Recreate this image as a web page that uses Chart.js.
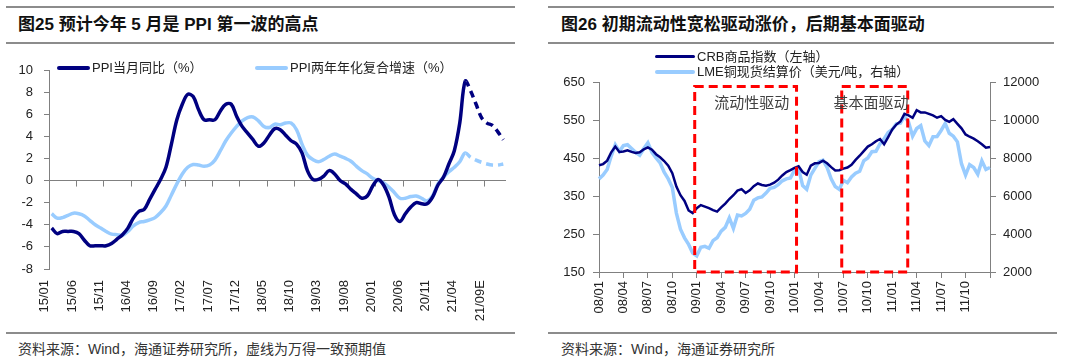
<!DOCTYPE html>
<html>
<head>
<meta charset="utf-8">
<script src="https://cdn.jsdelivr.net/npm/chart.js@4.4.0/dist/chart.umd.min.js"></script>
<style>
  body { margin: 0; background: #fff; width: 1080px; height: 364px; overflow: hidden; position: relative;
         font-family: "Liberation Sans", "Noto Sans CJK SC", sans-serif; }
  .rule { position: absolute; height: 2px; background: #8c8c8c; }
  .title { position: absolute; top: 15px; font-size: 17px; font-weight: bold; color: #111; line-height: 20px; white-space: nowrap; }
  .src { position: absolute; top: 340px; font-size: 14px; color: #333; line-height: 18px; white-space: nowrap; }
  .leg { position: absolute; font-size: 13px; color: #222; line-height: 16px; white-space: nowrap; }
  .sw { position: absolute; border-radius: 2px; }
  .panel { position: absolute; top: 50px; width: 540px; height: 280px; }
</style>
</head>
<body>
<!-- left panel -->
<div class="rule" style="left:6px;top:6px;width:509px"></div>
<div class="title" style="left:18px">图25 预计今年 5 月是 PPI 第一波的高点</div>
<div class="rule" style="left:6px;top:42px;width:509px"></div>
<div class="panel" style="left:0"><canvas id="ppiChart" width="540" height="280"></canvas></div>
<div class="sw" style="left:57px;top:66px;width:33px;height:4px;background:#000080"></div>
<div class="leg" style="left:92px;top:60px">PPI当月同比（%）</div>
<div class="sw" style="left:255px;top:66px;width:33px;height:4px;background:#99ccff"></div>
<div class="leg" style="left:290px;top:60px">PPI两年年化复合增速（%）</div>
<div class="rule" style="left:6px;top:332px;width:509px"></div>
<div class="src" style="left:18px">资料来源：Wind，海通证券研究所，虚线为万得一致预期值</div>

<!-- right panel -->
<div class="rule" style="left:548px;top:6px;width:506px"></div>
<div class="title" style="left:561px">图26 初期流动性宽松驱动涨价，后期基本面驱动</div>
<div class="rule" style="left:548px;top:42px;width:506px"></div>
<div class="panel" style="left:540px"><canvas id="crbChart" width="540" height="280"></canvas></div>
<div class="sw" style="left:655px;top:55px;width:40px;height:3px;background:#000080"></div>
<div class="leg" style="left:697px;top:49px">CRB商品指数（左轴）</div>
<div class="sw" style="left:655px;top:70px;width:40px;height:4px;background:#99ccff"></div>
<div class="leg" style="left:697px;top:64px">LME铜现货结算价（美元/吨，右轴）</div>
<div class="rule" style="left:548px;top:332px;width:509px"></div>
<div class="src" style="left:561px">资料来源：Wind，海通证券研究所</div>

<script>
Chart.defaults.font.family = '"Liberation Sans", "Noto Sans CJK SC", sans-serif';
Chart.defaults.font.size = 13;
Chart.defaults.color = '#222';

// ---- left chart data: monthly 2015/01 - 2021/12 ----
const ppiMonths = [];
for (let y = 15; y <= 21; y++) {
  for (let m = 1; m <= 12; m++) ppiMonths.push(y + '/' + String(m).padStart(2, '0'));
}
const ppiTickLabels = ['15/01', '15/06', '15/11', '16/04', '16/09', '17/02', '17/07', '17/12', '18/05',
  '18/10', '19/03', '19/08', '20/01', '20/06', '20/11', '21/04', '21/09E'];
const ppiYoY = [
  -4.3, -4.8, -4.6, -4.6, -4.6, -4.8, -5.4, -5.9, -5.9, -5.9, -5.9, -5.7,
  -5.3, -4.9, -4.3, -3.4, -2.8, -2.6, -1.7, -0.8, 0.1, 1.2, 3.3, 5.5,
  6.9, 7.8, 7.6, 6.4, 5.5, 5.5, 5.5, 6.3, 6.9, 6.9, 5.8, 4.9,
  4.3, 3.7, 3.1, 3.4, 4.1, 4.7, 4.6, 4.1, 3.6, 3.3, 2.5, 0.9,
  0.1, 0.1, 0.4, 0.9, 0.6, 0.0, -0.3, -0.8, -1.2, -1.6, -1.4, -0.5,
  0.1, -0.4, -1.5, -3.1, -3.7, -3.0, -2.4, -2.0, -2.1, -2.1, -1.5, -0.4,
  0.3, 1.5, 2.7, 5.2, 9.0, 8.1, 6.9, 5.7, 5.2, 5.0, 4.4, 3.7
];
const ppiTwoYear = [
  -3.0, -3.4, -3.35, -3.15, -2.95, -3.0, -3.2, -3.6, -4.0, -4.3, -4.6, -4.85,
  -4.9, -4.95, -4.6, -4.1, -3.8, -3.7, -3.55, -3.35, -2.9, -2.3, -1.3, -0.3,
  0.6, 1.2, 1.45, 1.4, 1.3, 1.4, 1.85, 2.7, 3.6, 4.3, 4.9, 5.4,
  5.7, 5.75, 5.4, 4.9, 4.8, 5.1, 5.05, 5.2, 5.2, 4.6, 3.3, 2.3,
  1.9, 1.7, 1.9, 2.2, 2.4, 2.2, 2.0, 1.75, 1.3, 0.9, 0.6, 0.2,
  0.0, -0.2, -0.6, -1.1, -1.6, -1.6, -1.45, -1.4, -1.6, -1.85, -1.4, -0.3,
  0.3, 0.8, 1.2, 1.7, 2.5, 2.1, 1.85, 1.65, 1.5, 1.4, 1.4, 1.5
];
const lastActual = 76; // 21/05, dashed afterwards (Wind consensus)

// ---- right chart data: semi-monthly 2008/01 - 2012/01 ----
const crbDates = [];
for (let y = 2008; y <= 2011; y++) {
  for (let m = 1; m <= 12; m++) {
    const mm = String(m).padStart(2, '0');
    crbDates.push(y + '-' + mm + '-01', y + '-' + mm + '-16');
  }
}
crbDates.push('2012-01-01');
const crbTickLabels = ['08/01', '08/04', '08/07', '08/10', '09/01', '09/04', '09/07', '09/10',
  '10/01', '10/04', '10/07', '10/10', '11/01', '11/04', '11/07', '11/10'];
const crbIndex = [
  431, 434, 443, 465, 480, 466, 467, 470, 466, 463, 465, 473, 478, 472, 460, 452,
  442, 430, 410, 375, 352, 337, 312, 305, 318, 326, 322, 318, 313, 309, 320, 330,
  342, 352, 364, 368, 358, 365, 376, 383, 379, 377, 380, 385, 393, 404, 413, 418,
  424, 428, 413, 406, 430, 436, 437, 443, 436, 426, 417, 418, 422, 425, 432, 445,
  456, 468, 480, 486, 494, 500, 486, 505, 525, 538, 546, 566, 562, 556, 576, 570,
  570, 566, 562, 556, 560, 550, 545, 552, 540, 528, 512, 506, 501, 494, 486, 477,
  479
];
const lmeCopper = [
  6900, 7100, 7400, 8100, 8700, 8350, 8650, 8700, 8500, 8300, 8150, 8500, 8800, 8300, 8000, 7750,
  7250, 6900, 6450, 5100, 4250, 3800, 3450, 3000, 2850, 3300, 3350, 3250, 3650, 3800, 4150, 4350,
  4850, 4300, 5000, 4950, 5080, 5300, 5780, 5900, 5950, 6150, 6400, 6450, 6600, 6800, 6900, 6950,
  7350, 7450, 6550, 6350, 7100, 7450, 7800, 7880, 7500, 6900, 6500, 6350, 6830, 6700, 7000, 7200,
  7300, 7850, 8000, 8330, 8350, 8750, 9000, 9350, 9500, 9800, 9830, 10200, 9900, 9150, 9550, 9700,
  8900, 8650, 9120, 9130, 9450, 9820, 9300, 9150, 8850, 7700, 7100, 7650, 7500, 7150, 7850, 7400,
  7500
];
// shaded phases, in semi-month index units
const phaseLabels = ['流动性驱动', '基本面驱动'];
const phaseFrom = [23.5, 59.6];
const phaseTo = [48.5, 75.8];
const phaseLabelAt = [37.5, 66.8];

const axisGray = '#808080';

// tick marks along the zero line of the left chart
const zeroLineTicks = {
  id: 'zeroLineTicks',
  beforeDatasetsDraw(chart) {
    const { ctx, scales: { x, y } } = chart;
    const y0 = y.getPixelForValue(0);
    const step = x.width / ppiMonths.length;
    ctx.save();
    ctx.strokeStyle = axisGray;
    ctx.lineWidth = 1;
    for (let i = 5; i <= 80; i += 5) {
      const px = Math.round(x.left + i * step) + 0.5;
      ctx.beginPath();
      ctx.moveTo(px, y0);
      ctx.lineTo(px, y0 + 6);
      ctx.stroke();
    }
    ctx.restore();
  }
};

new Chart(document.getElementById('ppiChart'), {
  type: 'line',
  data: {
    labels: ppiMonths,
    datasets: [{
      data: ppiYoY,
      borderColor: '#000080',
      borderWidth: 3.5,
      pointRadius: 0,
      tension: 0.35,
      segment: { borderDash: ctx => ctx.p0DataIndex >= lastActual ? [7, 5] : undefined }
    }, {
      data: ppiTwoYear,
      borderColor: '#99ccff',
      borderWidth: 3.5,
      pointRadius: 0,
      tension: 0.35,
      segment: { borderDash: ctx => ctx.p0DataIndex >= lastActual ? [7, 5] : undefined }
    }]
  },
  options: {
    responsive: false,
    animation: false,
    layout: { padding: { top: 20, right: 34, left: 0, bottom: 0 } },
    plugins: { legend: { display: false }, tooltip: { enabled: false } },
    scales: {
      x: {
        offset: true,
        grid: { display: false, drawTicks: false },
        border: { display: false },
        ticks: {
          autoSkip: false, minRotation: 90, maxRotation: 90, padding: 11, labelOffset: -7,
          callback: (v, i) => (i % 5 === 0 ? ppiTickLabels[i / 5] : '')
        },
        afterFit: s => { s.height = 61; }
      },
      y: {
        min: -8, max: 10,
        ticks: { stepSize: 2, padding: 11, callback: v => String(v) },
        grid: {
          color: c => (c.tick && c.tick.value === 0 ? axisGray : 'transparent'),
          tickColor: axisGray, tickLength: 5
        },
        border: { display: true, color: axisGray },
        afterFit: s => { s.width = 49; }
      }
    }
  },
  plugins: [zeroLineTicks]
});

// red dashed phase boxes + labels
const phaseBoxes = {
  id: 'phaseBoxes',
  afterDatasetsDraw(chart) {
    const { ctx, scales: { x, y } } = chart;
    ctx.save();
    ctx.strokeStyle = '#ff0000';
    ctx.lineWidth = 3;
    ctx.setLineDash([9, 5]);
    for (let i = 0; i < phaseFrom.length; i++) {
      const l = x.getPixelForValue(phaseFrom[i]);
      const r = x.getPixelForValue(phaseTo[i]);
      const t = y.getPixelForValue(638);
      const b = y.getPixelForValue(150);
      ctx.strokeRect(l, t, r - l, b - t);
    }
    ctx.setLineDash([]);
    ctx.fillStyle = '#404040';
    ctx.font = '15px "Noto Sans CJK SC", sans-serif';
    ctx.textAlign = 'center';
    ctx.textBaseline = 'middle';
    for (let i = 0; i < phaseLabels.length; i++) {
      ctx.fillText(phaseLabels[i], x.getPixelForValue(phaseLabelAt[i]), y.getPixelForValue(596));
    }
    ctx.restore();
  }
};

new Chart(document.getElementById('crbChart'), {
  type: 'line',
  data: {
    labels: crbDates,
    datasets: [{
      data: crbIndex,
      yAxisID: 'y',
      borderColor: '#000080',
      borderWidth: 2.5,
      pointRadius: 0,
      tension: 0
    }, {
      data: lmeCopper,
      yAxisID: 'y1',
      borderColor: '#99ccff',
      borderWidth: 3.5,
      pointRadius: 0,
      tension: 0
    }]
  },
  options: {
    responsive: false,
    animation: false,
    layout: { padding: { top: 32, right: 0, left: 0, bottom: 0 } },
    plugins: { legend: { display: false }, tooltip: { enabled: false } },
    scales: {
      x: {
        offset: false,
        grid: {
          drawOnChartArea: false, tickLength: 6,
          tickColor: c => (c.index % 6 === 0 ? axisGray : 'transparent')
        },
        border: { display: true, color: axisGray },
        ticks: {
          autoSkip: false, minRotation: 90, maxRotation: 90, padding: 3,
          callback: (v, i) => (i % 6 === 0 && i / 6 < crbTickLabels.length ? crbTickLabels[i / 6] : '')
        },
        afterFit: s => { s.height = 58; }
      },
      y: {
        position: 'left',
        min: 150, max: 650,
        ticks: { stepSize: 100, padding: 8, callback: v => String(v) },
        grid: { drawOnChartArea: false, tickColor: axisGray, tickLength: 6 },
        border: { display: true, color: axisGray },
        afterFit: s => { s.width = 59; }
      },
      y1: {
        position: 'right',
        min: 2000, max: 12000,
        ticks: { stepSize: 2000, padding: 7, callback: v => String(v) },
        grid: { drawOnChartArea: false, tickColor: axisGray, tickLength: 6 },
        border: { display: true, color: axisGray },
        afterFit: s => { s.width = 90; }
      }
    }
  },
  plugins: [phaseBoxes]
});
</script>
</body>
</html>
